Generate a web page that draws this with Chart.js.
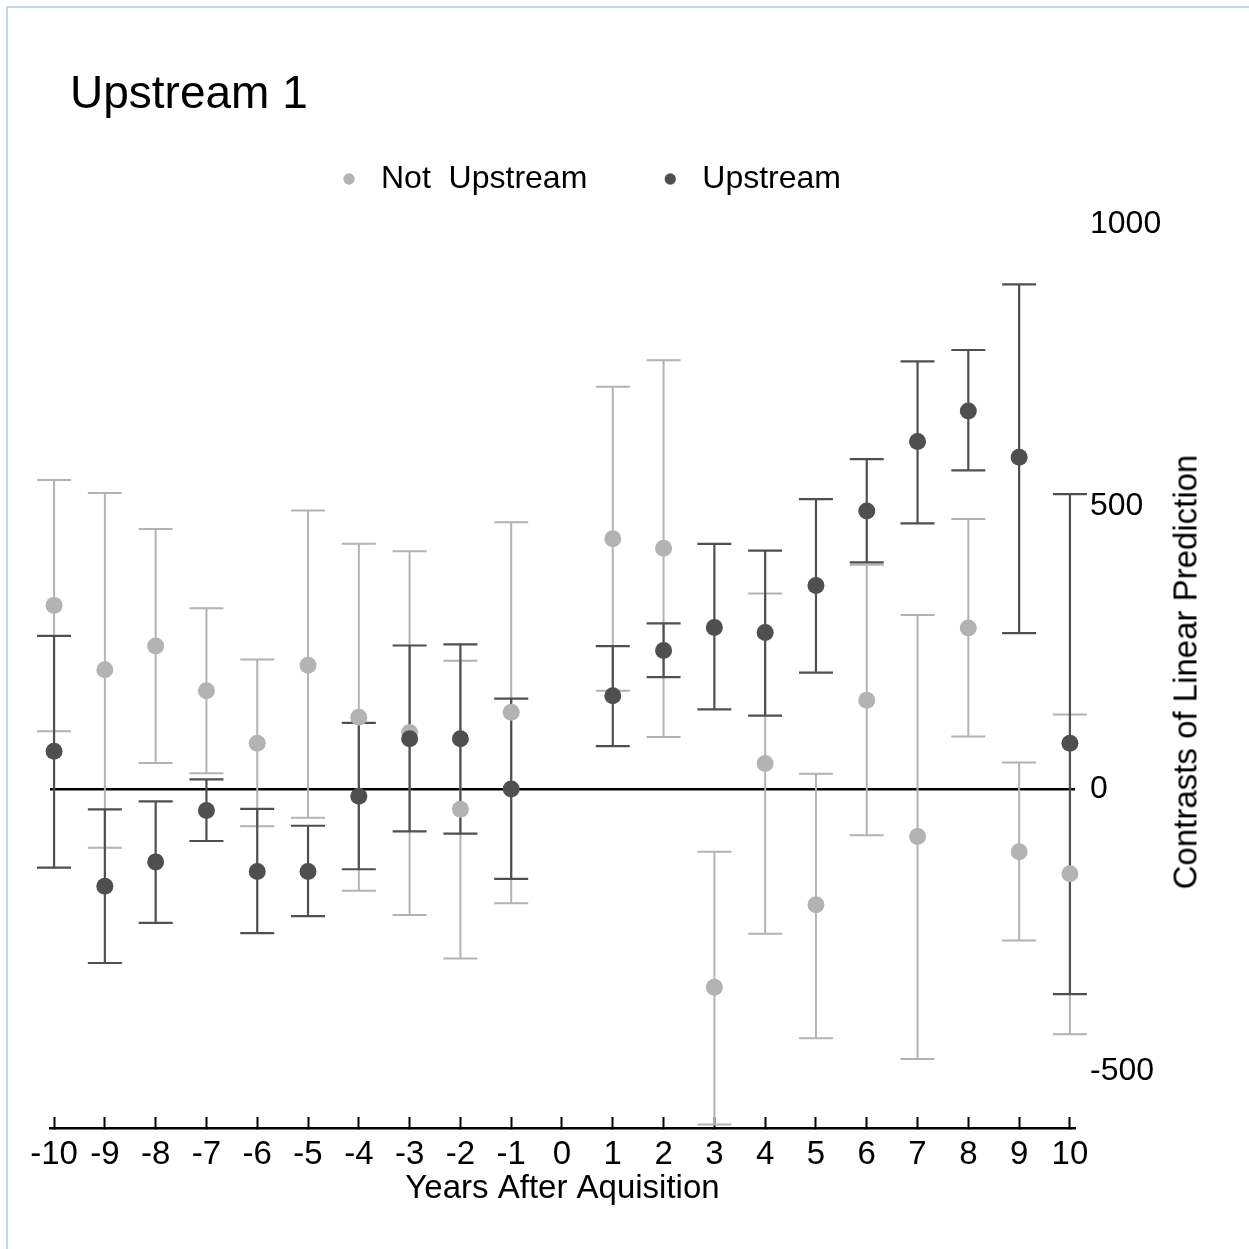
<!DOCTYPE html>
<html>
<head>
<meta charset="utf-8">
<script src="https://cdn.jsdelivr.net/npm/chart.js@4.4.0/dist/chart.umd.min.js"></script>
<style>
  body { margin: 0; background: #fff; overflow: hidden; }
  #wrap { position: relative; width: 1249px; height: 1249px; overflow: hidden; }
  #frame { position: absolute; left: 6px; top: 6px; width: 1260px; height: 1260px; border-left: 2px solid #c8d6e5; border-top: 2px solid #c8d6e5; }
  #title { position: absolute; left: 70px; top: 69px; font: 46px 'Liberation Sans', Arial, sans-serif; line-height: 46px; white-space: nowrap; color: #000; }
  #ytitle { position: absolute; left: 1185px; top: 672px; transform: translate(-50%, -50%) rotate(-90deg); font: 33px 'Liberation Sans', Arial, sans-serif; line-height: 33px; white-space: nowrap; color: #000; }
  canvas { position: absolute; left: 0; top: 0; }
</style>
</head>
<body>
<div id="wrap">
  <div id="frame"></div>
  <canvas id="chart" width="1249" height="1249"></canvas>
  <div id="title">Upstream 1</div>
  <div id="ytitle">Contrasts of Linear Prediction</div>
</div>
<script>
const years = [-10, -9, -8, -7, -6, -5, -4, -3, -2, -1, 1, 2, 3, 4, 5, 6, 7, 8, 9, 10];

const notUp   = [325, 211, 253, 174, 81, 219, 127, 100, -36, 136, 443, 426, -351, 45, -205, 157, -84, 285, -111, -150];
const notUpLo = [102, -104, 46, 28, -66, -51, -180, -223, -300, -202, 174, 92, -594, -256, -441, -82, -478, 93, -268, -434];
const notUpHi = [547, 524, 460, 320, 229, 493, 434, 421, 227, 472, 712, 759, -111, 346, 27, 397, 308, 478, 47, 132];

const up   = [67, -172, -129, -38, -146, -146, -13, 89, 89, 0, 165, 245, 286, 277, 360, 492, 615, 669, 587, 81];
const upLo = [-139, -308, -237, -92, -255, -225, -142, -75, -79, -159, 76, 198, 141, 130, 206, 401, 470, 564, 276, -363];
const upHi = [271, -36, -22, 17, -35, -65, 117, 254, 256, 160, 253, 293, 434, 422, 513, 584, 757, 777, 893, 522];

const xTicks = [-10, -9, -8, -7, -6, -5, -4, -3, -2, -1, 0, 1, 2, 3, 4, 5, 6, 7, 8, 9, 10];
const yTicks = [-500, 0, 500, 1000];

const lightGray = '#b3b3b3';
const darkGray = '#4f4f4f';
const font = "'Liberation Sans', Arial, sans-serif";

// caps + vertical lines, drawn under the points
const errorBars = {
  id: 'errorBars',
  beforeDatasetsDraw(chart) {
    const { ctx, scales: { x, y } } = chart;
    chart.data.datasets.forEach(ds => {
      ctx.save();
      ctx.strokeStyle = ds.barColor;
      ctx.lineWidth = ds.barWidth;
      ds.data.forEach((p, i) => {
        const px = x.getPixelForValue(p.x);
        const lo = y.getPixelForValue(ds.lo[i]);
        const hi = y.getPixelForValue(ds.hi[i]);
        ctx.beginPath();
        ctx.moveTo(px, lo); ctx.lineTo(px, hi);
        ctx.moveTo(px - 17, lo); ctx.lineTo(px + 17, lo);
        ctx.moveTo(px - 17, hi); ctx.lineTo(px + 17, hi);
        ctx.stroke();
      });
      ctx.restore();
    });
  }
};

// legend: extra room below it, and centred a bit left of the full width
const legendFix = {
  id: 'legendFix',
  beforeInit(chart) {
    const fit = chart.legend.fit;
    chart.legend.fit = function () {
      fit.call(this);
      this.height += 19;
    };
  },
  afterLayout(chart) {
    chart.legend.right -= 125;
  }
};

new Chart(document.getElementById('chart'), {
  type: 'scatter',
  data: {
    datasets: [
      {
        label: 'Not  Upstream',
        data: years.map((x, i) => ({ x, y: notUp[i] })),
        lo: notUpLo,
        hi: notUpHi,
        barColor: lightGray,
        barWidth: 2,
        backgroundColor: lightGray,
        borderColor: lightGray,
        pointRadius: 8.5,
        pointBorderWidth: 0,
        clip: false,
        order: 1,
      },
      {
        label: 'Upstream',
        data: years.map((x, i) => ({ x, y: up[i] })),
        lo: upLo,
        hi: upHi,
        barColor: darkGray,
        barWidth: 2.2,
        backgroundColor: darkGray,
        borderColor: darkGray,
        pointRadius: 8.5,
        pointBorderWidth: 0,
        clip: false,
        order: 0,
      },
    ],
  },
  options: {
    responsive: false,
    animation: false,
    devicePixelRatio: 1,
    layout: { padding: { top: 96, left: 50, right: 0, bottom: 0 } },
    scales: {
      x: {
        type: 'linear',
        min: -10.08,
        max: 10.1,
        afterBuildTicks: axis => { axis.ticks = xTicks.map(v => ({ value: v })); },
        afterFit: axis => { axis.height = 121; },
        border: { display: true, color: '#000', width: 2.5 },
        grid: { display: true, drawOnChartArea: false, drawTicks: true, tickLength: -11, tickWidth: 2, tickColor: '#000' },
        ticks: {
          padding: 18,
          color: '#000',
          font: { family: font, size: 33 },
          maxRotation: 0,
          autoSkip: false,
          callback: v => String(v),
        },
        title: {
          display: true,
          text: 'Years After Aquisition',
          color: '#000',
          font: { family: font, size: 33 },
          padding: { top: 0, bottom: 40 },
        },
      },
      y: {
        type: 'linear',
        position: 'right',
        min: -600,
        max: 1000,
        afterBuildTicks: axis => { axis.ticks = yTicks.map(v => ({ value: v })); },
        afterFit: axis => { axis.width = 174; },
        border: { display: false },
        grid: {
          drawTicks: false,
          lineWidth: 2.5,
          color: c => (c.tick && c.tick.value === 0 ? '#000' : 'rgba(0,0,0,0)'),
        },
        ticks: {
          padding: 15,
          color: '#000',
          font: { family: font, size: 32 },
          callback: v => String(v),
        },
      },
    },
    plugins: {
      legend: {
        display: true,
        position: 'top',
        align: 'center',
        labels: {
          usePointStyle: true,
          pointStyle: 'circle',
          boxWidth: 32,
          boxHeight: 8,
          padding: 67,
          color: '#000',
          font: { family: font, size: 32 },
          sort: (a, b) => a.datasetIndex - b.datasetIndex,
        },
      },
      tooltip: { enabled: false },
    },
  },
  plugins: [errorBars, legendFix],
});
</script>
</body>
</html>
